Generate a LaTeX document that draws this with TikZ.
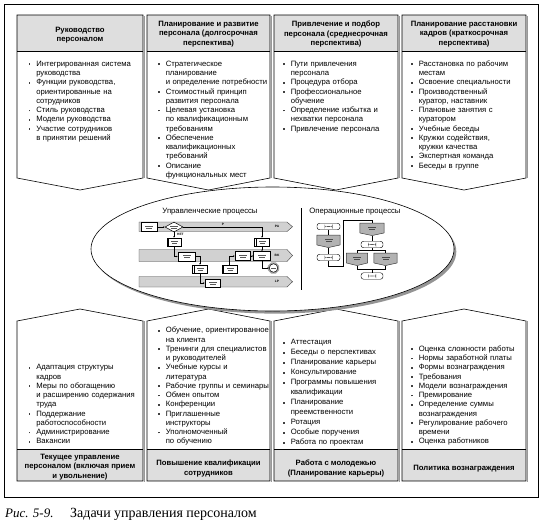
\documentclass[tikz,border=0pt]{standalone}
\usepackage{fontspec}
\setmainfont{Liberation Serif}
\setsansfont{Liberation Sans}
\usetikzlibrary{shapes.geometric,arrows.meta,calc}
\newlength\bulind \setlength\bulind{7.6pt}
\newcommand\bul{\textcolor{black!75}{\rule[1.4pt]{1.7pt}{1.7pt}}}
\newcommand\itm{\par\noindent\makebox[\bulind][l]{\bul}\ignorespaces}
\newcommand\cnt{\par\noindent\hspace*{\bulind}\ignorespaces}
\newcommand\topcol[3]{%
  \draw[shad] (#2+1.7,16) -- (#2+1.7,178.4);
  \fill[white] (#1,15) -- (#2,15) -- (#2,178) -- (#3,190) -- (#1,178) -- cycle;
  \fill[hdr] (#1,15) rectangle (#2,51);
  \draw[line width=0.6pt] (#1,51) -- (#2,51);
  \draw[line width=0.6pt] (#1,15) -- (#2,15) -- (#2,178) -- (#3,190) -- (#1,178) -- cycle;}
\newcommand\botcol[3]{%
  \draw[shad] (#2+1.7,321.4) -- (#2+1.7,482);
  \fill[white] (#1,321) -- (#3,309) -- (#2,321) -- (#2,481) -- (#1,481) -- cycle;
  \fill[hdr] (#1,449) rectangle (#2,481);
  \draw[line width=0.6pt] (#1,449) -- (#2,449);
  \draw[line width=0.6pt] (#1,321) -- (#3,309) -- (#2,321) -- (#2,481) -- (#1,481) -- cycle;}
\newcommand\lane[2]{%
  \draw[lane] (139,#1) -- (287,#1) -- (292.5,{(#1+#2)/2}) -- (287,#2) -- (139,#2) -- cycle;}
\begin{document}
\begin{tikzpicture}[x=1pt,y=-1pt,
  font=\sffamily\fontsize{7.7}{9.25}\selectfont,
  shad/.style={draw=black!40,line width=1pt},
  hdr/.style={fill=black!13},
  htext/.style={font=\sffamily\bfseries\fontsize{7.7}{9.3}\selectfont,align=center,inner sep=0pt},
  list/.style={text width=125pt,align=left,inner sep=0pt,anchor=north west},
  lane/.style={fill=black!18,draw=black!75,line width=0.4pt},
  mline/.style={line width=0.45pt,-{Stealth[length=1.6pt,width=1.4pt]}},
  pline/.style={line width=0.45pt},
  ftxt/.style={path picture={
     \fill[black!65] ([shift={(-4pt,0.5pt)}]path picture bounding box.center) rectangle ++(8pt,0.7pt);
     \fill[black!65] ([shift={(-3pt,-1.4pt)}]path picture bounding box.center) rectangle ++(6pt,0.7pt);}},
  mbox/.style={draw=black,fill=white,line width=0.7pt,inner sep=0pt,minimum width=#1,minimum height=9pt,ftxt},
  mdoc/.style={draw=black,fill=white,line width=0.6pt,inner sep=0pt,minimum width=#1,minimum height=8pt,
     path picture={
     \draw[line width=0.4pt] ([xshift=1.6pt]path picture bounding box.north west) -- ([xshift=1.6pt]path picture bounding box.south west);
     \fill[black!65] ([shift={(-3pt,0.5pt)}]path picture bounding box.center) rectangle ++(7pt,0.7pt);
     \fill[black!65] ([shift={(-2pt,-1.4pt)}]path picture bounding box.center) rectangle ++(5pt,0.7pt);}},
  term/.style={draw=black,fill=white,line width=0.45pt,rounded corners=2.6pt,inner sep=0pt,minimum width=#1,minimum height=6.5pt,
     path picture={\fill[black!65] ([shift={(-4pt,-0.35pt)}]path picture bounding box.center) rectangle ++(8pt,0.7pt);}},
  pbox/.style={inner sep=0pt,minimum width=#1,minimum height=9.5pt},
  pshape/.style={fill=black!30,draw=black!80,line width=0.45pt},
  tiny/.style={font=\sffamily\bfseries\fontsize{3.2}{3.5}\selectfont,inner sep=0pt}
]
\useasboundingbox (0,0) rectangle (545,527);
\draw[line width=0.8pt] (4,4) rectangle (538,497);

% ---------- top columns
\topcol{17}{143}{80}
\topcol{147}{270}{208.5}
\topcol{274}{398}{336}
\topcol{402}{526}{464}

\node[htext] (h1) at (80,35) {Руководство\\персоналом};
\node[htext] (h2) at (208.5,34) {Планирование и развитие\\персонала (долгосрочная\\перспектива)};
\node[htext] (h3) at (336,34) {Привлечение и подбор\\персонала (среднесрочная\\перспектива)};
\node[htext] (h4) at (464,34) {Планирование расстановки\\кадров (краткосрочная\\перспектива)};

\node[list] (l1) at (28.5,57) {\itm Интегрированная система \cnt руководства
\itm Функции руководства, \cnt ориентированные на \cnt сотрудников
\itm Стиль руководства
\itm Модели руководства
\itm Участие сотрудников \cnt в принятии решений\par};
\node[list] (l2) at (158,57) {\itm Стратегическое \cnt планирование \cnt и определение потребности
\itm Стоимостный принцип \cnt развития персонала
\itm Целевая установка \cnt по квалификационным \cnt требованиям
\itm Обеспечение \cnt квалификационных \cnt требований
\itm Описание \cnt функциональных мест\par};
\node[list] (l3) at (283,57) {\itm Пути привлечения \cnt персонала
\itm Процедура отбора
\itm Профессиональное \cnt обучение
\itm Определение избытка и \cnt нехватки персонала
\itm Привлечение персонала\par};
\node[list] (l4) at (411,57) {\itm Расстановка по рабочим \cnt местам
\itm Освоение специальности
\itm Производственный \cnt куратор, наставник
\itm Плановые занятия с \cnt куратором
\itm Учебные беседы
\itm Кружки содействия, \cnt кружки качества
\itm Экспертная команда
\itm Беседы в группе\par};

% ---------- bottom columns
\botcol{17}{143}{80}
\botcol{147}{270}{208.5}
\botcol{274}{398}{336}
\botcol{402}{526}{464}

\node[list] (b1) at (28.5,360.5) {\itm Адаптация структуры \cnt кадров
\itm Меры по обогащению \cnt и расширению содержания \cnt труда
\itm Поддержание \cnt работоспособности
\itm Администрирование
\itm Вакансии\par};
\node[list] (b2) at (158,323.5) {\itm Обучение, ориентированное \cnt на клиента
\itm Тренинги для специалистов \cnt и руководителей
\itm Учебные курсы и \cnt литература
\itm Рабочие группы и семинары
\itm Обмен опытом
\itm Конференции
\itm Приглашенные \cnt инструкторы
\itm Уполномоченный \cnt по обучению\par};
\node[list,font=\sffamily\fontsize{7.7}{10}\selectfont] (b3) at (283,334.7) {\itm Аттестация
\itm Беседы о перспективах
\itm Планирование карьеры
\itm Консультирование
\itm Программы повышения \cnt квалификации
\itm Планирование \cnt преемственности
\itm Ротация
\itm Особые поручения
\itm Работа по проектам\par};
\node[list] (b4) at (411,342) {\itm Оценка сложности работы
\itm Нормы заработной платы
\itm Формы вознаграждения
\itm Требования
\itm Модели вознаграждения
\itm Премирование
\itm Определение суммы \cnt вознаграждения
\itm Регулирование рабочего \cnt времени
\itm Оценка работников\par};

\node[htext] (f1) at (80,467) {Текущее управление\\персоналом (включая прием\\и увольнение)};
\node[htext] (f2) at (208.5,468.5) {Повышение квалификации\\сотрудников};
\node[htext] (f3) at (336,468.5) {Работа с молодежью\\(Планирование карьеры)};
\node[htext] (f4) at (464,468.5) {Политика вознаграждения};

% ---------- central ellipse
\node[ellipse,fill=black!42,minimum width=363pt,minimum height=124pt,inner sep=0pt] (ellsh) at (274.8,251.6) {};
\node[ellipse,draw=black,line width=0.6pt,fill=white,minimum width=363pt,minimum height=124pt,inner sep=0pt] (ell) at (272.5,249) {};
\draw[line width=0.6pt] (301,208) -- (301,290);
\node[inner sep=0pt] (t1) at (210,212) {Управленческие процессы};
\node[inner sep=0pt] (t2) at (355,212) {Операционные процессы};

% left mini diagram (swimlanes)
\lane{222}{231.5}
\lane{249.5}{261.5}
\lane{276.5}{287}
\node[tiny] (la1) at (277,226.8) {PA};
\node[tiny] (la2) at (277,255.5) {BK};
\node[tiny] (la3) at (277,281.8) {LP};

\node[mbox=16pt,line width=1pt] (B1) at (149,227) {};
\node[diamond,draw=black,fill=white,line width=0.5pt,minimum width=18pt,minimum height=10pt,inner sep=0pt,ftxt] (D) at (174,227) {};
\node[mdoc=14pt] (B2) at (174,242) {};
\node[mbox=17pt] (B3) at (186.5,256.5) {};
\node[mdoc=15pt] (B4) at (200,269) {};
\node[mbox=15pt,minimum height=8pt] (B6) at (212.5,283) {};
\node[mdoc=15pt] (B5) at (262,242) {};
\node[mbox=15pt] (B7) at (242.5,256) {};
\node[mbox=17pt] (B8) at (262,256) {};
\node[mdoc=15pt] (B9) at (229.5,269) {};
\node[regular polygon,regular polygon sides=8,fill=black!35,minimum size=12pt,inner sep=0pt] (Cg) at (273.5,268) {};
\node[circle,draw=black,fill=white,line width=0.5pt,minimum size=8.5pt,inner sep=0pt,
  path picture={\fill[black!65] ([shift={(-2.5pt,-0.35pt)}]path picture bounding box.center) rectangle ++(5pt,0.7pt);}] (C) at (273.5,268) {};

\draw[mline] (B1.east) -- (D.west);
\draw[mline] (D.east) -| (B5.north);
\draw[mline] (D.south) -- (B2.north);
\draw[mline] (B2.south) |- (B3.west);
\draw[mline] (B3.east) -| (B4.north);
\draw[mline] (B4.south) |- (B6.west);
\draw[mline] (B5.south) -- (B8.north);
\draw[mline] (B7.east) -- (B8.west);
\draw[mline] (B9.north) |- (B7.west);
\draw[mline] (B8.south) |- (C.west);
\node[tiny] (lp) at (223,224.6) {P};
\node[tiny,anchor=west] (ln) at (177,234.6) {НЕТ};

% right mini diagram (flowchart)
\node[term=23pt] (T1) at (328.5,226.5) {};
\node[pbox=23pt] (P1) at (328.5,240) {};
\node[term=23pt] (T2) at (328.5,257.5) {};
\node[pbox=24pt] (P2) at (372,228) {};
\node[term=22pt] (T3) at (372,244.5) {};
\node[pbox=21pt] (P3) at (357,258) {};
\node[pbox=23pt] (P4) at (385.5,258) {};
\node[term=22pt] (T4) at (372,276) {};
\foreach \p in {P1,P2,P3,P4}{
  \draw[pshape] (\p.north west) -- (\p.north east) -- (\p.south east) -- ([yshift=-2.6pt]\p.south) -- (\p.south west) -- cycle;
  \fill[black!70] ([shift={(-4pt,0.3pt)}]\p.center) rectangle ++(8pt,0.7pt);
  \fill[black!70] ([shift={(-3pt,-1.6pt)}]\p.center) rectangle ++(6pt,0.7pt);
  \coordinate (\p t) at ([yshift=-2.6pt]\p.south);}
\coordinate (k1) at (343.5,266);
\coordinate (k2) at (343.5,220.5);
\coordinate (s1) at (372,250.5);
\coordinate (m1) at (372,268.8);
\draw[pline] (T1.south) -- (P1.north);
\draw[pline] (P1t) -- (T2.north);
\draw[pline] (T2.south) |- (k1) -- (k2) -| (P2.north);
\draw[pline] (P2t) -- (T3.north);
\draw[pline] (T3.south) -- (s1);
\draw[pline] (P3.north) |- (s1) -| (P4.north);
\draw[pline] (P3t) |- (m1) -| (P4t);
\draw[pline] (m1) -- (T4.north);

% ---------- caption
\node[anchor=base west,inner sep=0pt,font=\rmfamily\itshape\fontsize{13}{15}\selectfont] (cap1) at (5,517) {Рис. 5-9.};
\node[anchor=base west,inner sep=0pt,font=\rmfamily\fontsize{14}{16}\selectfont] (cap2) at (70,517) {Задачи управления персоналом};
\end{tikzpicture}
\end{document}
